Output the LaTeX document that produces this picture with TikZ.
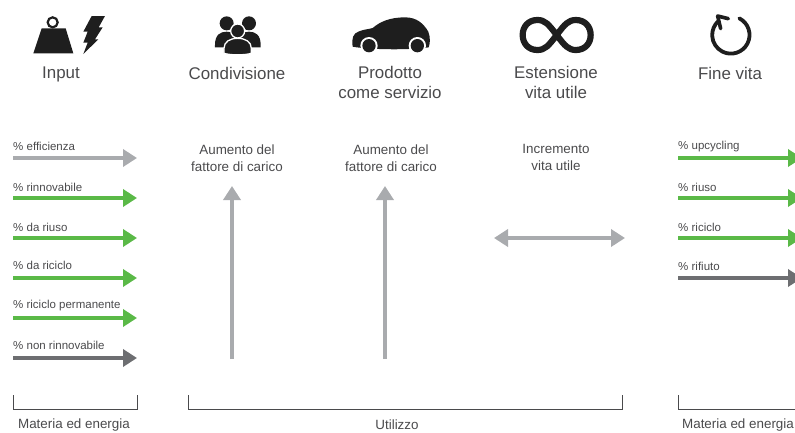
\documentclass[tikz,border=0pt]{standalone}
\usepackage{fontspec}
\setmainfont{Liberation Sans}
\usetikzlibrary{arrows.meta}
\definecolor{txt}{HTML}{4A4A4C}
\definecolor{flowgray}{HTML}{A9ABAE}
\definecolor{flowgreen}{HTML}{5AB947}
\definecolor{flowdark}{HTML}{6D6E71}
\definecolor{ink}{HTML}{1E1E1E}
\tikzset{
  headtxt/.style={text=txt,font=\fontsize{16.9}{20}\selectfont,align=center,inner sep=0pt},
  midtxt/.style={text=txt,font=\fontsize{13.4}{17}\selectfont,align=center,inner sep=0pt},
  smalltxt/.style={text=txt,font=\fontsize{11.5}{13}\selectfont,anchor=west,inner sep=0pt},
  flow/.style={line width=3.7pt,-{Triangle[length=14pt,width=17pt]}},
  flowboth/.style={line width=3.7pt,{Triangle[length=14pt,width=17pt]}-{Triangle[length=14pt,width=17pt]}},
  bracket/.style={draw=txt,line width=0.9pt},
  iconline/.style={draw=ink,line cap=round,line join=round}
}
\begin{document}
\begin{tikzpicture}[x=1pt,y=-1pt]
\useasboundingbox (0,0) rectangle (795,432);
% headings
\node[headtxt] (hinput) at (61,74.5) {Input};
\node[headtxt] (hcond) at (237,73) {Condivisione};
\node[headtxt,anchor=north] (hprod) at (390,66) {Prodotto\\come servizio};
\node[headtxt,anchor=north] (hest) at (556,66) {Estensione\\vita utile};
\node[headtxt] (hfine) at (730,73) {Fine vita};
% weight and bolt
\begin{scope}[scale=1/3]
\draw[draw=ink,line width=2.2pt] (158,67) circle (15);
\fill[ink] (125,85) -- (197,85) -- (220,160) -- (100,160) -- cycle;
\fill[ink] (275,48) -- (315,48) -- (296,82) -- (308,82) -- (285,118) -- (295,118) -- (250,162) -- (263,128) -- (250,128) -- (263,95) -- (250,95) -- cycle;
% people
\fill[ink] (680,70) circle (21);
\fill[ink] (747,70) circle (21);
\fill[ink] (645,135) .. controls (645,105) and (660,95) .. (680,95) .. controls (700,95) and (715,105) .. (715,135) -- (715,142) -- (645,142) -- cycle;
\fill[ink] (712,135) .. controls (712,105) and (727,95) .. (747,95) .. controls (767,95) and (782,105) .. (782,135) -- (782,142) -- (712,142) -- cycle;
\fill[ink,draw=white,line width=1.3pt] (713,93) circle (21);
\fill[ink,draw=white,line width=1.3pt] (672,160) -- (672,145) .. controls (672,125) and (690,115) .. (713,115) .. controls (736,115) and (754,125) .. (754,145) -- (754,160) .. controls (735,166) and (690,166) .. (672,160) -- cycle;
\end{scope}
% car, infinity, cycle
\begin{scope}[shift={(330,0)},scale=1/3]
\fill[ink] (68,140) .. controls (64,115) and (70,100) .. (85,95) .. controls (100,88) and (115,88) .. (128,84) .. controls (150,65) and (180,52) .. (225,52) .. controls (260,52) and (280,70) .. (295,95) .. controls (302,115) and (300,130) .. (296,142) .. controls (250,150) and (120,150) .. (68,140) -- cycle;
\fill[white] (117,137) circle (26);
\fill[white] (262,137) circle (26);
\fill[ink] (117,137) circle (20);
\fill[ink] (262,137) circle (20);
\draw[iconline,line width=6.2pt] (680,105) .. controls (655,72) and (645,60) .. (622,60) .. controls (595,60) and (578,80) .. (578,105) .. controls (578,130) and (595,150) .. (622,150) .. controls (645,150) and (655,138) .. (680,105) .. controls (705,72) and (715,60) .. (738,60) .. controls (765,60) and (782,80) .. (782,105) .. controls (782,130) and (765,150) .. (738,150) .. controls (715,150) and (705,138) .. (680,105) -- cycle;
\draw[iconline,line width=3.8pt] (1228,55) arc[start angle=-63,end angle=229,radius=56];
\draw[iconline,line width=3.6pt] (1195,56) -- (1163,48) -- (1172,86);
\end{scope}
% left column
\node[smalltxt] (l1) at (13,146) {\% efficienza};
\node[smalltxt] (l2) at (13,187) {\% rinnovabile};
\node[smalltxt] (l3) at (13,227) {\% da riuso};
\node[smalltxt] (l4) at (13,265) {\% da riciclo};
\node[smalltxt] (l5) at (13,306) {\% riciclo permanente};
\node[smalltxt] (l6) at (13,345) {\% non rinnovabile};
\foreach \n/\y in {1/158,2/198,3/238,4/278,5/318,6/358}{
  \coordinate (la\n) at (13,\y);
  \coordinate (lb\n) at (137,\y);
}
\draw[flow,flowgray] (la1) -- (lb1);
\draw[flow,flowgreen] (la2) -- (lb2);
\draw[flow,flowgreen] (la3) -- (lb3);
\draw[flow,flowgreen] (la4) -- (lb4);
\draw[flow,flowgreen] (la5) -- (lb5);
\draw[flow,flowdark] (la6) -- (lb6);
% middle
\node[midtxt,anchor=north] (m1) at (237,144.5) {Aumento del\\fattore di carico};
\node[midtxt,anchor=north] (m2) at (391,144.5) {Aumento del\\fattore di carico};
\node[midtxt,anchor=north] (m3) at (556,144.5) {Incremento\\vita utile};
\coordinate (ma1) at (232,359); \coordinate (mb1) at (232,186);
\coordinate (ma2) at (385,359); \coordinate (mb2) at (385,186);
\coordinate (ma3) at (494,238); \coordinate (mb3) at (625,238);
\draw[flow,flowgray] (ma1) -- (mb1);
\draw[flow,flowgray] (ma2) -- (mb2);
\draw[flowboth,flowgray] (ma3) -- (mb3);
% right column
\node[smalltxt] (r1) at (678,147) {\% upcycling};
\node[smalltxt] (r2) at (678,187) {\% riuso};
\node[smalltxt] (r3) at (678,227) {\% riciclo};
\node[smalltxt] (r4) at (678,266) {\% rifiuto};
\foreach \n/\y in {1/158,2/198,3/238,4/278}{
  \coordinate (ra\n) at (678,\y);
  \coordinate (rb\n) at (802,\y);
}
\draw[flow,flowgreen] (ra1) -- (rb1);
\draw[flow,flowgreen] (ra2) -- (rb2);
\draw[flow,flowgreen] (ra3) -- (rb3);
\draw[flow,flowdark] (ra4) -- (rb4);
% brackets
\coordinate (b1a) at (13,395); \coordinate (b1b) at (137,395);
\coordinate (b2a) at (188,395); \coordinate (b2b) at (622,395);
\coordinate (b3a) at (678,395); \coordinate (b3b) at (802,395);
\draw[bracket] (b1a) -- ++(0,14) -| (b1b);
\draw[bracket] (b2a) -- ++(0,14) -| (b2b);
\draw[bracket] (b3a) -- ++(0,14) -| (b3b);
\node[midtxt] (f1) at (74,425) {Materia ed energia};
\node[midtxt] (f2) at (397,425) {Utilizzo};
\node[midtxt] (f3) at (738,425) {Materia ed energia};
\end{tikzpicture}
\end{document}
